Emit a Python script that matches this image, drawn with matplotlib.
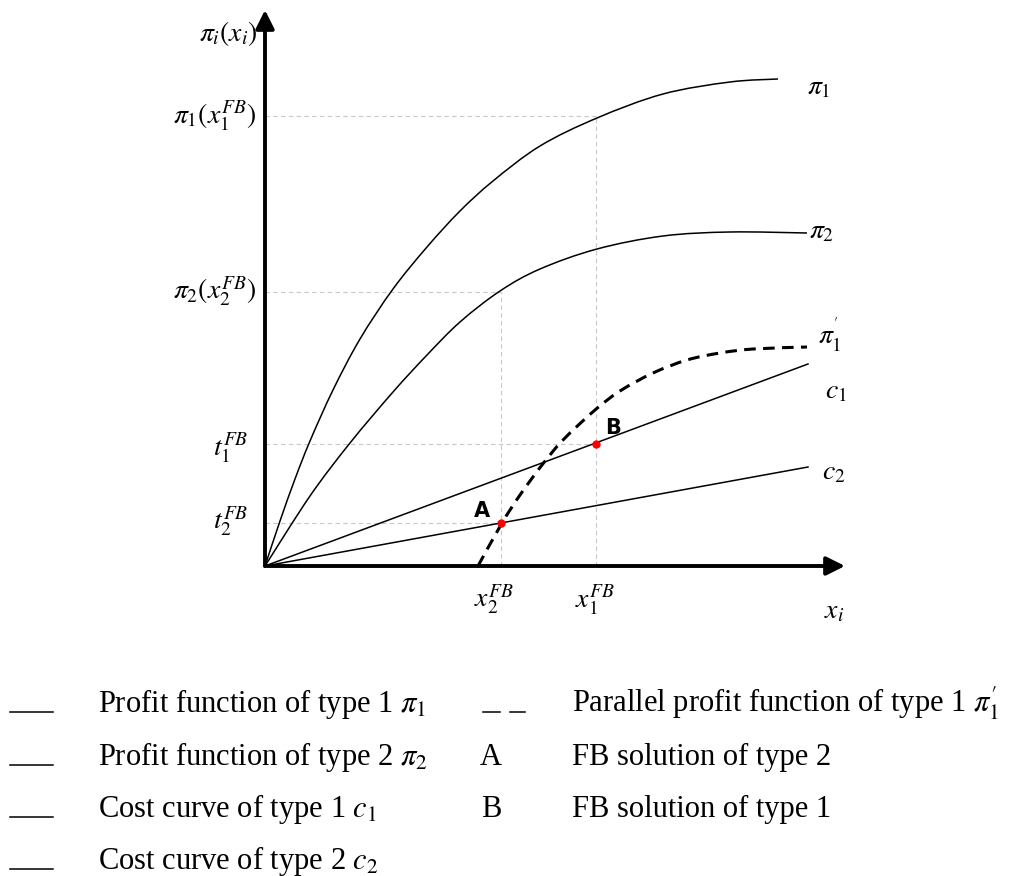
import matplotlib
matplotlib.use("Agg")
import numpy as np
import matplotlib.pyplot as plt
from matplotlib.path import Path
from matplotlib.patches import PathPatch

plt.rcParams['font.family'] = ['Liberation Serif', 'DejaVu Serif']
plt.rcParams['mathtext.fontset'] = 'stix'

# curves (x, profit)
pi1_x = [0, 0.15, 0.30, 0.45, 0.68, 0.95, 1.28, 1.62, 1.95, 2.28, 2.75, 3.32, 3.98, 4.65, 5.13]
pi1_y = [0, 0.45, 0.87, 1.25, 1.76, 2.27, 2.77, 3.19, 3.55, 3.85, 4.20, 4.48, 4.72, 4.84, 4.87]

pi2_x = [0, 0.45, 0.85, 1.28, 1.62, 1.95, 2.35, 2.75, 3.32, 3.98, 4.65, 5.42]
pi2_y = [0, 0.70, 1.23, 1.74, 2.11, 2.44, 2.75, 2.97, 3.17, 3.30, 3.34, 3.33]

pi1p_x = [2.13, 2.37, 2.55, 2.77, 2.98, 3.30, 3.55, 3.88, 4.22, 4.55, 4.88, 5.42]
pi1p_y = [0, 0.43, 0.71, 1.01, 1.26, 1.56, 1.75, 1.93, 2.06, 2.13, 2.17, 2.19]

c1_x = [0, 5.43]
c1_y = [0, 2.02]
c2_x = [0, 5.43]
c2_y = [0, 0.99]

# first-best points
x2_fb, t2_fb = 2.36, 0.43
x1_fb, t1_fb = 3.31, 1.22
pi1_fb = 4.50
pi2_fb = 2.74

legend_left = [r"Profit function of type 1 $\pi_1$",
               r"Profit function of type 2 $\pi_2$",
               r"Cost curve of type 1 $c_1$",
               r"Cost curve of type 2 $c_2$"]
legend_right = [r"Parallel profit function of type 1 $\pi_1^{\prime}$",
                "FB solution of type 2",
                "FB solution of type 1"]


def smooth_path(xs, ys):
    # cubic bezier through the read points (catmull-rom tangents)
    p = np.column_stack([xs, ys]).astype(float)
    verts = [p[0]]
    codes = [Path.MOVETO]
    n = len(p)
    for i in range(n - 1):
        p0 = p[i - 1] if i > 0 else p[i]
        p3 = p[i + 2] if i + 2 < n else p[i + 1]
        c1 = p[i] + (p[i + 1] - p0) / 6
        c2 = p[i + 1] - (p3 - p[i]) / 6
        verts += [c1, c2, p[i + 1]]
        codes += [Path.CURVE4] * 3
    return Path(verts, codes)


fig = plt.figure(figsize=(10.13, 8.76), dpi=100)
ax = fig.add_axes([0, 0, 1, 1])
ax.set_xlim(-2.65, 7.48)
ax.set_ylim(-3.10, 5.66)
ax.axis('off')

# guide lines
grid = dict(color='#c8c8c8', lw=0.8, ls=(0, (4, 3)), zorder=1)
ax.plot([0, x1_fb], [pi1_fb, pi1_fb], **grid)
ax.plot([x1_fb, x1_fb], [0, pi1_fb], **grid)
ax.plot([0, x2_fb], [pi2_fb, pi2_fb], **grid)
ax.plot([x2_fb, x2_fb], [0, pi2_fb], **grid)
ax.plot([0, x1_fb], [t1_fb, t1_fb], **grid)
ax.plot([0, x2_fb], [t2_fb, t2_fb], **grid)

# axes with arrows
arr = dict(arrowstyle='-|>', lw=2.8, color='k', mutation_scale=28, shrinkA=0, shrinkB=0)
ax.annotate('', xy=(5.80, 0), xytext=(0, 0), arrowprops=arr, zorder=5)
ax.annotate('', xy=(0, 5.56), xytext=(0, 0), arrowprops=arr, zorder=5)

# curves
ax.add_patch(PathPatch(smooth_path(pi1_x, pi1_y), fill=False, ec='k', lw=1.1, zorder=3))
ax.add_patch(PathPatch(smooth_path(pi2_x, pi2_y), fill=False, ec='k', lw=1.1, zorder=3))
ax.add_patch(PathPatch(smooth_path(pi1p_x, pi1p_y), fill=False, ec='k', lw=2.2,
                       ls=(0, (3.8, 2.4)), zorder=3))
ax.plot(c1_x, c1_y, color='k', lw=1.1, zorder=3)
ax.plot(c2_x, c2_y, color='k', lw=1.1, zorder=3)

ax.plot([x2_fb, x1_fb], [t2_fb, t1_fb], 'o', color='red', ms=5, ls='none', zorder=4)
ax.text(2.17, 0.55, 'A', family='DejaVu Sans', weight='bold', fontsize=15, ha='center', va='center')
ax.text(3.48, 1.38, 'B', family='DejaVu Sans', weight='bold', fontsize=15, ha='center', va='center')

fs = 20
ax.text(-0.07, 5.33, r'$\pi_i(x_i)$', fontsize=fs, ha='right', va='center')
ax.text(-0.09, pi1_fb, r'$\pi_1(x_1^{FB})$', fontsize=fs, ha='right', va='center')
ax.text(-0.09, pi2_fb, r'$\pi_2(x_2^{FB})$', fontsize=fs, ha='right', va='center')
ax.text(-0.17, t1_fb - 0.04, r'$t_1^{FB}$', fontsize=fs, ha='right', va='center')
ax.text(-0.17, t2_fb + 0.01, r'$t_2^{FB}$', fontsize=fs, ha='right', va='center')
ax.text(x2_fb - 0.07, -0.34, r'$x_2^{FB}$', fontsize=fs, ha='center', va='center')
ax.text(x1_fb - 0.01, -0.34, r'$x_1^{FB}$', fontsize=fs, ha='center', va='center')
ax.text(5.69, -0.46, r'$x_i$', fontsize=fs, ha='center', va='center')

ax.text(5.42, 4.78, r'$\pi_1$', fontsize=fs, ha='left', va='center')
ax.text(5.44, 3.34, r'$\pi_2$', fontsize=fs, ha='left', va='center')
ax.text(5.53, 2.31, r"$\pi_1^{'}$", fontsize=fs, ha='left', va='center')
ax.text(5.60, 1.74, r'$c_1$', fontsize=fs, ha='left', va='center')
ax.text(5.57, 0.93, r'$c_2$', fontsize=fs, ha='left', va='center')

# key below the chart
rows = [-1.46, -1.99, -2.51, -3.03]
lfs = 22
for y, lab in zip(rows, legend_left):
    ax.plot([-2.55, -2.12], [y, y], color='k', lw=1.1)
    ax.text(-1.67, y, lab, fontsize=lfs, ha='left', va='baseline')
ax.plot([2.18, 2.35], [rows[0], rows[0]], color='k', lw=1.1)
ax.plot([2.45, 2.60], [rows[0], rows[0]], color='k', lw=1.1)
ax.text(2.26, rows[1], 'A', fontsize=lfs, ha='center', va='baseline')
ax.text(2.26, rows[2], 'B', fontsize=lfs, ha='center', va='baseline')
for y, lab in zip(rows, legend_right):
    ax.text(3.07, y, lab, fontsize=lfs, ha='left', va='baseline')

fig.savefig('out.png', dpi=100)
